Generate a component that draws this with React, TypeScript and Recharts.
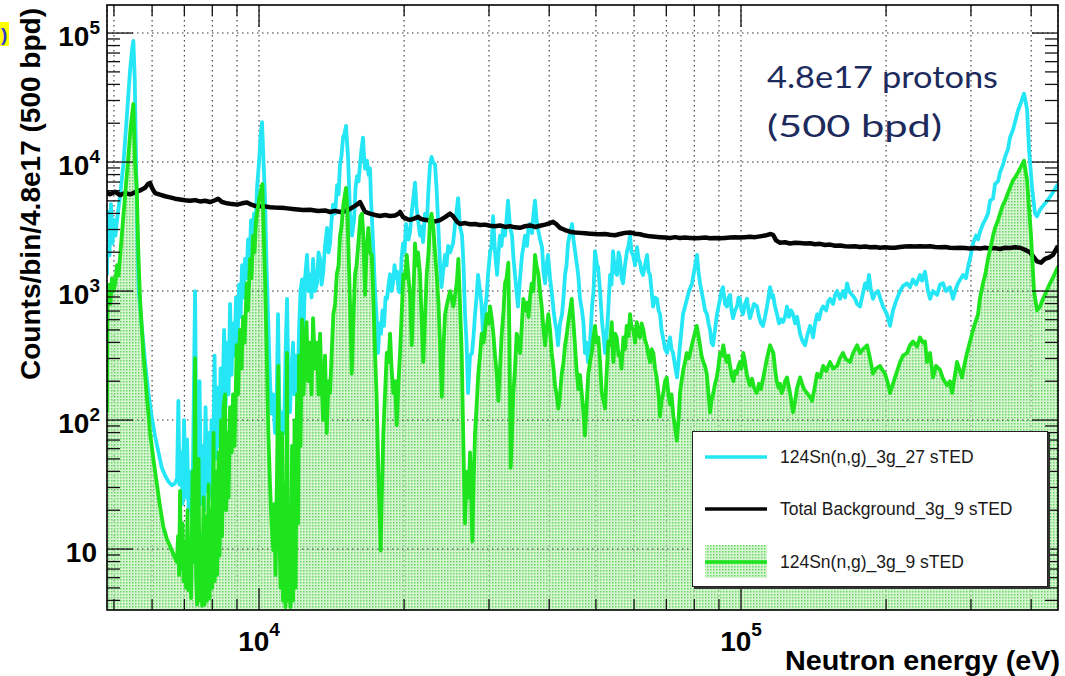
import React from 'react';
import { ComposedChart, Line, Area, XAxis, YAxis, CartesianGrid, ReferenceLine, Legend } from 'recharts';

// ---------------- layout constants ----------------
const CHART_W = 1065;
const CHART_H = 676;
const PLOT_LEFT = 107;
const PLOT_RIGHT = 1058;
const PLOT_TOP = 5;
const PLOT_BOTTOM = 610;
const FONT = "'Liberation Sans', Arial, Helvetica, sans-serif";

// ---------------- axes ----------------
const X_DOMAIN: [number, number] = [4837, 454700];
const Y_DOMAIN: [number, number] = [3.37, 165000];
const xTicks = [5000, 6000, 7000, 8000, 9000, 10000, 20000, 30000, 40000, 50000, 60000, 70000, 80000, 90000, 100000, 200000, 300000, 400000];
const xMajorTicks = [10000, 100000];
const xMajorExponents = ['4', '5'];
const yTicks = [4, 5, 6, 7, 8, 9, 10, 20, 30, 40, 50, 60, 70, 80, 90, 100, 200, 300, 400, 500, 600, 700, 800, 900, 1000, 2000, 3000, 4000, 5000, 6000, 7000, 8000, 9000, 10000, 20000, 30000, 40000, 50000, 60000, 70000, 80000, 90000, 100000];
const yMajorTicks = [10, 100, 1000, 10000, 100000];
const yMajorExponents = ['', '2', '3', '4', '5'];

// ---------------- texts ----------------
const seriesNames = ['124Sn(n,g)_3g_27 sTED', 'Total Background_3g_9 sTED', '124Sn(n,g)_3g_9 sTED'];
const xTitle = 'Neutron energy (eV)';
const yTitle = 'Counts/bin/4.8e17 (500 bpd)';
const noteLines = ['4.8e17 protons', '(500 bpd)'];

// ---------------- data: [neutron energy (eV), counts] ----------------
const cyanSeries: [number, number][] = [
[4837,1330],[4860,4100],[4895,1890],[4930,4720],[4966,2340],[5001,3560],[5037,2690],[5074,3560],[5148,5430],[5230,9530],
[5316,22130],[5400,51290],[5460,78160],[5486,86900],[5522,44570],[5556,10960],[5591,2690],[5628,1007],[5709,536],[5801,284],
[5894,162],[5991,106],[6085,75],[6183,56.6],[6283,42.8],[6383,37.2],[6486,33.4],[6594,31.2],[6695,32.3],[6760,35.5],
[6802,141],[6841,31.6],[6891,56.2],[6941,22.4],[6990,100],[7040,25.1],[7091,70.8],[7142,20],[7193,39.8],[7245,17.8],
[7297,50.1],[7367,1000],[7420,39.8],[7474,20],[7527,200],[7581,22.4],[7636,63.1],[7690,20],[7745,126],[7801,28.2],
[7857,79.4],[7914,25.1],[7971,100],[8028,35.5],[8086,316],[8144,50.1],[8203,178],[8262,63.1],[8321,251],[8381,89.1],
[8462,501],[8522,126],[8584,398],[8646,158],[8707,794],[8770,224],[8833,562],[8896,316],[8960,891],[9025,398],
[9090,1122],[9155,631],[9221,1585],[9287,891],[9354,1778],[9421,1259],[9489,2512],[9556,1585],[9625,3548],[9695,2239],
[9765,3981],[9834,3162],[9905,6310],[10000,10000],[10072,15850],[10145,20420],[10218,10000],[10290,5370],[10364,1585],[10439,661],
[10539,200],[10615,112],[10692,158],[10794,79.4],[10872,126],[10950,661],[11029,100],[11108,63.1],[11188,115],[11269,79.4],
[11350,316],[11432,871],[11514,158],[11596,115],[11680,251],[11764,398],[11849,158],[11934,316],[12020,162],[12106,501],
[12193,1000],[12281,1230],[12370,501],[12458,1259],[12578,1905],[12669,1000],[12760,1349],[12852,891],[12945,1778],[13068,1000],
[13194,1148],[13289,1995],[13385,1778],[13482,1122],[13579,1349],[13708,2239],[13840,3090],[13939,1995],[14040,2344],[14141,3548],
[14243,4677],[14380,3981],[14518,6607],[14623,5623],[14725,9550],[14831,11220],[14938,15490],[15046,16600],[15154,19050],[15227,14130],
[15300,10960],[15447,3981],[15595,2692],[15745,3548],[15858,6310],[15972,7762],[16087,7079],[16200,9550],[16317,12590],[16434,15490],
[16513,11220],[16595,8913],[16674,10000],[16754,10230],[16875,7943],[16996,8913],[17077,5012],[17159,3548],[17241,2344],[17407,1000],
[17532,631],[17658,331],[17785,562],[17910,468],[18040,708],[18170,537],[18300,891],[18430,871],[18570,1122],[18700,1349],
[18835,1000],[18970,1148],[19105,1585],[19240,1259],[19335,1413],[19475,1000],[19613,977],[19755,1778],[19900,2344],[20040,1995],
[20185,3311],[20280,2818],[20430,2512],[20576,2884],[20725,3981],[20875,5012],[21070,6918],[21220,4467],[21375,3548],[21580,2692],
[21735,3162],[21890,2399],[22100,3981],[22310,3548],[22475,6310],[22638,9550],[22800,10960],[22965,10000],[23185,9550],[23350,6310],
[23520,3548],[23745,1585],[23915,1072],[24090,1413],[24320,1905],[24495,1585],[24675,2239],[24911,1995],[25270,2344],[25570,3548],
[25880,5248],[26122,3162],[26375,2692],[26565,1585],[26755,661],[26950,398],[27145,162],[27404,316],[27668,331],[27866,447],
[28065,661],[28267,891],[28470,1334],[28740,1000],[28947,794],[29155,468],[29440,708],[29650,891],[29865,1334],[30150,1995],
[30370,2239],[30590,3802],[30880,1995],[31180,1334],[31400,1995],[31623,2692],[31850,2239],[32080,3162],[32390,2692],[32620,3548],
[32855,5012],[33170,3162],[33490,2692],[33730,1778],[33970,1334],[34215,1000],[34460,759],[34800,1259],[35135,1905],[35390,2239],
[35640,2692],[35980,2239],[36240,3162],[36500,3311],[36850,2818],[37115,3981],[37380,5012],[37650,3548],[37920,3020],[38280,2512],
[38650,2188],[38930,1413],[39210,1148],[39495,1585],[39780,1905],[40160,1259],[40545,933],[40840,708],[41130,575],[41425,501],
[41725,380],[42120,562],[42525,661],[42830,891],[43140,1334],[43450,1585],[43760,2344],[44180,2818],[44605,3311],[44925,2512],
[45250,2042],[45685,1585],[46015,1259],[46340,871],[46785,708],[47120,562],[47460,331],[47800,398],[48145,282],[48620,398],
[49085,759],[49440,1000],[49790,2042],[50270,1585],[50510,1549],[51000,1000],[51490,575],[51860,447],[52230,331],[52610,447],
[52985,661],[53490,1334],[53875,1122],[54260,2042],[54780,1413],[55310,1334],[55710,1995],[56110,1778],[56515,1259],[56920,1148],
[57460,1585],[58010,2042],[58430,2239],[58860,2692],[59285,1995],[59710,1905],[60280,1585],[60860,2188],[61300,1778],[61740,1660],
[62185,1413],[62630,1334],[63230,1585],[63840,1905],[64300,1413],[64760,1334],[65225,1000],[65700,759],[66320,891],[66960,871],
[67440,708],[67920,661],[68410,501],[68900,437],[69570,355],[70240,331],[70750,398],[71250,437],[71765,355],[72280,331],
[72970,263],[73670,214],[74190,282],[74720,380],[75260,501],[75800,661],[76540,759],[77275,871],[78020,1000],[79150,1148],
[79910,1413],[81060,1905],[81640,1413],[82220,1148],[82810,1000],[83410,871],[84210,708],[85020,661],[85630,562],[86250,501],
[86870,398],[87490,380],[88330,501],[89180,661],[89820,759],[90460,871],[91110,1000],[91760,1072],[92650,794],[93540,759],
[94210,891],[94900,933],[95580,708],[96270,617],[97190,708],[98120,759],[98820,891],[99520,871],[100240,708],[100960,661],
[101930,794],[102910,871],[103650,708],[104400,617],[105400,708],[106420,794],[107960,759],[108990,631],[110025,562],[111080,537],
[112170,631],[113240,759],[114900,1072],[116010,891],[116560,933],[117650,759],[118780,661],[119920,562],[121080,603],[122240,575],
[123400,631],[124580,759],[125780,631],[127010,708],[128230,661],[129500,562],[130740,631],[132600,468],[133870,417],[135800,380],
[137110,447],[139100,537],[140430,479],[141100,437],[142500,562],[143870,661],[145250,603],[146600,708],[148080,759],[150220,708],
[151640,832],[153000,871],[155250,794],[156800,933],[158300,1000],[160500,871],[162800,1000],[164400,891],[165980,1148],[167590,1000],
[170020,933],[172500,871],[174150,794],[176600,759],[178300,891],[180900,1148],[182630,1047],[184320,1334],[186090,1000],[187870,871],
[189700,955],[192470,1000],[194300,891],[197100,759],[199000,708],[200900,661],[203800,537],[206730,708],[209700,832],[213800,1000],
[216900,1096],[221080,1148],[224200,1072],[227420,1230],[230800,1122],[235200,1334],[237440,1202],[240900,1413],[244350,1000],[246700,871],
[250300,1000],[255200,933],[258800,1122],[262530,1148],[266300,1000],[271400,1072],[275330,871],[279300,1047],[282000,1148],[286100,1259],
[288860,1334],[293000,1259],[295900,1549],[298700,1778],[303000,2344],[307400,2692],[310300,2512],[313300,2884],[317800,3311],[320900,3548],
[325500,3981],[328600,5012],[333400,5248],[336600,6761],[341500,7079],[344700,8318],[349700,9550],[353100,10960],[358100,12590],[361500,15490],
[366800,17780],[370300,20420],[375600,25120],[379200,27540],[386500,33880],[392200,25700],[395900,12590],[401700,6310],[407400,3981],[411300,3802],
[417300,4266],[423300,4571],[429400,4898],[437700,5370],[446100,6026],[454700,6761]
];

const blackSeries: [number, number][] = [
[4837,5820],[4906,5623],[5025,5888],[5148,5546],[5272,5754],[5400,5623],[5530,5821],[5664,6026],[5801,6310],[5883,6761],
[5941,6887],[5998,6310],[6085,5754],[6232,5585],[6383,5433],[6538,5321],[6695,5200],[6858,5129],[7023,5058],[7193,5012],
[7367,5070],[7545,4955],[7727,5012],[7914,4898],[8105,5058],[8222,5200],[8381,4898],[8584,4786],[8791,4721],[9004,4677],
[9221,4786],[9443,4853],[9579,4721],[9811,4571],[10048,4550],[10290,4529],[10539,4467],[10794,4436],[11323,4395],[11877,4305],
[12340,4246],[12760,4266],[13257,4169],[13708,4217],[14040,4102],[14380,4188],[14725,4102],[15082,4169],[15447,4335],[15820,4571],
[16087,4786],[16200,4898],[16356,4571],[16595,4102],[16996,3981],[17407,3890],[17824,3819],[18256,3890],[18700,3819],[19150,3846],
[19475,3981],[19613,4102],[19900,3741],[20280,3614],[20576,3565],[21070,3664],[21375,3767],[21690,3614],[22100,3565],[22638,3516],
[23185,3467],[23745,3548],[24320,3741],[24911,3981],[25270,3802],[25760,3443],[26122,3311],[26755,3365],[27404,3296],[28065,3311],
[28740,3251],[29440,3273],[30150,3206],[30880,3184],[31623,3228],[32390,3141],[33170,3184],[33970,3119],[34800,3090],[35640,3184],
[36500,3228],[37380,3141],[38280,3206],[39210,3273],[40160,3365],[40740,3443],[41330,3311],[42120,3090],[43140,2972],[44180,2884],
[45250,2844],[46340,2825],[47460,2805],[48620,2786],[49790,2767],[51000,2754],[52230,2767],[53490,2729],[54780,2710],[56110,2767],
[57460,2825],[58860,2844],[60280,2786],[61740,2754],[63230,2692],[64760,2655],[66320,2636],[67920,2618],[69570,2600],[71250,2582],
[72970,2618],[74720,2582],[76540,2600],[78400,2582],[80280,2564],[82220,2582],[84210,2600],[86250,2564],[88330,2582],[90460,2564],
[92650,2582],[94900,2600],[97190,2618],[99520,2600],[101930,2618],[104400,2636],[106930,2618],[109500,2655],[112170,2692],[114900,2767],
[116560,2729],[118220,2472],[120500,2371],[123400,2388],[126400,2339],[129500,2371],[132600,2355],[135800,2339],[139100,2350],[142500,2307],
[145900,2323],[149500,2275],[153000,2291],[156800,2244],[160500,2259],[164400,2228],[168400,2213],[172500,2228],[176600,2198],[180900,2213],
[185200,2183],[189700,2198],[194300,2168],[199000,2183],[203800,2163],[208700,2168],[213800,2198],[219000,2213],[224200,2228],[229700,2213],
[235200,2228],[240900,2213],[246700,2228],[252700,2198],[258800,2183],[265000,2198],[271400,2168],[278000,2153],[284700,2168],[291600,2153],
[298700,2138],[305900,2153],[313300,2138],[320900,2168],[328600,2138],[336600,2153],[344700,2118],[353100,2168],[361500,2153],[370300,2183],
[379200,2168],[388400,2089],[397800,1995],[403700,1862],[411300,1698],[419300,1660],[427300,1778],[435600,1820],[443900,1905],[454700,2239]
];

const greenSeries: [number, number][] = [
[4837,115],[4849,1000],[4883,1122],[4918,794],[4954,1259],[4989,1000],[5025,1122],[5074,1585],[5111,1318],[5190,2692],
[5272,5433],[5356,10960],[5418,19050],[5486,28180],[5530,10000],[5575,6310],[5618,1995],[5664,871],[5754,327],[5847,158],
[5941,80.4],[6036,50.1],[6135,32.4],[6232,21.4],[6333,14.8],[6437,12.0],[6538,10.5],[6643,9.12],[6752,7.94],[6793,12.6],
[6826,6.31],[6858,28.2],[6891,7.08],[6941,15.8],[6974,5.62],[7023,11.2],[7057,5.01],[7108,20.0],[7142,4.79],[7193,10.0],
[7227,4.17],[7280,39.8],[7332,7.94],[7367,302],[7402,6.31],[7438,3.72],[7492,50.1],[7527,3.98],[7581,12.6],[7618,3.63],
[7672,25.1],[7709,3.72],[7764,17.8],[7801,3.98],[7857,31.6],[7895,4.17],[7952,20.0],[7990,5.01],[8048,79.4],[8086,5.62],
[8144,39.8],[8183,6.31],[8242,56.2],[8282,8.91],[8341,100],[8381,12.6],[8441,126],[8502,158],[8543,20.0],[8604,79.4],
[8646,25.1],[8707,126],[8778,56.2],[8833,158],[8896,63.1],[8990,380],[9046,158],[9133,501],[9199,251],[9265,631],
[9331,398],[9431,1148],[9489,708],[9579,1778],[9648,1259],[9718,2692],[9788,1995],[9858,3548],[9968,4677],[10048,5623],
[10160,6761],[10218,3162],[10290,1259],[10364,398],[10455,79.4],[10539,31.6],[10615,15.8],[10707,9.77],[10769,22.4],[10820,6.31],
[10898,39.8],[10966,263],[11029,12.6],[11082,5.01],[11162,79.4],[11215,3.98],[11296,31.6],[11350,3.55],[11432,331],[11487,3.98],
[11569,20.0],[11624,3.55],[11708,63.1],[11764,3.98],[11849,100],[11906,5.01],[11991,158],[12049,15.8],[12106,316],[12193,63.1],
[12281,603],[12370,158],[12458,316],[12548,575],[12639,200],[12760,398],[12852,158],[12945,617],[13068,251],[13194,398],
[13289,158],[13385,468],[13482,200],[13579,100],[13708,316],[13820,79.4],[13939,200],[14040,162],[14141,316],[14263,661],
[14380,794],[14497,1349],[14623,1585],[14725,2692],[14831,3162],[14960,4677],[15154,6310],[15263,3981],[15322,2344],[15447,794],
[15573,229],[15670,501],[15820,1349],[15934,1585],[16072,2344],[16239,3802],[16356,3981],[16458,2692],[16595,933],[16714,1995],
[16860,3090],[16996,1995],[17135,1905],[17241,1000],[17407,331],[17532,158],[17683,39.8],[17885,9.77],[17953,20.0],[18109,79.4],
[18256,158],[18406,331],[18565,282],[18700,468],[18835,251],[18997,162],[19150,200],[19307,91.2],[19475,200],[19613,331],
[19755,631],[19928,1349],[20090,1259],[20255,1905],[20430,1259],[20576,933],[20745,380],[20875,794],[21070,2344],[21220,1585],
[21375,1995],[21580,1349],[21735,631],[21920,282],[22100,631],[22280,1349],[22475,1995],[22638,3548],[22800,3981],[22998,3090],
[23185,1995],[23372,1349],[23575,794],[23745,380],[23950,151],[24090,316],[24320,661],[24555,794],[24911,1000],[25310,759],
[25720,1148],[25915,1778],[26122,794],[26335,331],[26545,64.6],[26755,15.8],[26975,39.8],[27210,25.1],[27404,56.2],[27710,11.5],
[27865,31.6],[28065,79.4],[28267,126],[28510,229],[28740,316],[28975,468],[29225,398],[29440,501],[29680,661],[29935,562],
[30150,759],[30370,631],[30630,468],[30880,316],[31130,229],[31375,141],[31623,251],[31885,468],[32160,708],[32390,1148],
[32620,1259],[32905,1660],[33090,398],[33280,42.7],[33490,79.4],[33700,162],[33970,251],[34250,468],[34540,398],[34800,331],
[35050,501],[35350,871],[35640,708],[35930,813],[36240,631],[36500,891],[36800,1148],[37080,1000],[37380,1905],[37650,1585],
[37975,1349],[38280,1000],[38590,759],[38930,501],[39210,380],[39495,501],[39835,661],[40160,501],[40490,331],[40840,251],
[41130,186],[41425,158],[41790,123],[42120,158],[42470,229],[42830,282],[43140,380],[43450,447],[43825,575],[44180,708],
[44545,871],[44925,562],[45250,380],[45575,251],[45970,174],[46340,224],[46720,162],[47120,112],[47460,75.9],[47800,126],
[48215,229],[48620,282],[49010,331],[49440,447],[49790,537],[50150,398],[50580,437],[51000,282],[51415,162],[51860,141],
[52230,123],[52610,224],[53060,407],[53490,380],[53925,575],[54340,282],[54780,468],[55230,437],[55710,316],[56110,331],
[56515,251],[57000,437],[57460,355],[57920,537],[58430,447],[58860,661],[59285,525],[59800,501],[60280,398],[60780,575],
[61300,457],[61740,437],[62185,562],[62720,501],[63230,417],[63750,380],[64300,316],[64760,282],[65225,355],[65790,331],
[66320,251],[66860,214],[67440,158],[67920,107],[68410,141],[69000,162],[69570,200],[70130,214],[70740,158],[71250,132],
[71765,158],[72380,107],[72970,89.1],[73570,69.2],[74210,100],[74720,162],[75260,200],[75910,245],[76540,282],[77160,331],
[78020,302],[79040,380],[79910,447],[80940,537],[81640,447],[82220,380],[82810,316],[83530,282],[84210,263],[84900,229],
[85630,158],[86250,115],[86870,141],[87620,162],[88330,191],[89050,214],[89820,263],[90460,331],[91110,316],[91890,380],
[92650,316],[93400,282],[94210,316],[94900,263],[95580,224],[96420,200],[97190,240],[97990,229],[98820,263],[99520,282],
[100240,251],[101100,331],[101930,282],[102780,229],[103650,200],[104400,186],[105400,209],[106420,178],[107800,162],[108990,191],
[110025,174],[111240,214],[112170,251],[113240,302],[114900,380],[115730,355],[116740,331],[117650,251],[118610,200],[119640,178],
[120500,191],[121370,162],[122430,174],[123400,200],[124580,214],[126400,162],[128230,115],[129500,141],[130740,178],[132600,214],
[133870,191],[135150,174],[137110,162],[139100,151],[140430,141],[142160,178],[143870,229],[145900,214],[148080,263],[150220,240],
[153000,282],[155250,251],[158300,263],[160500,302],[162800,331],[165200,295],[168400,282],[170860,331],[174150,380],[176600,331],
[179170,355],[182630,380],[185200,302],[187870,229],[190600,251],[194300,263],[197100,240],[199000,229],[201900,191],[203800,162],
[206730,191],[208700,214],[211700,251],[213800,282],[216900,316],[221080,331],[224200,380],[227420,407],[231890,372],[235200,437],
[238610,398],[240900,407],[243200,282],[246700,331],[250300,214],[253900,263],[258800,245],[262530,209],[267570,186],[271400,200],
[274100,162],[278000,224],[280660,282],[284700,240],[287450,214],[291600,282],[294400,331],[298700,407],[303000,501],[305900,562],
[310300,661],[313300,891],[317800,1148],[320900,1318],[325500,1778],[328600,2089],[333400,2692],[336600,3090],[341500,3548],[344700,3981],
[349700,4677],[353100,5012],[358100,5754],[361500,6310],[366800,7244],[370300,7586],[375600,8318],[379200,8913],[386500,10230],[392200,7244],
[395900,4467],[399700,2692],[405500,1000],[411300,708],[417300,759],[423300,871],[429400,977],[437700,1148],[446100,1318],[454700,1549]
];

const toRows = (s: [number, number][]) => s.map(([e, v]) => ({ e, v }));
const cyanData = toRows(cyanSeries);
const blackData = toRows(blackSeries);
const greenData = toRows(greenSeries);

// ---------------- colours ----------------
const CYAN = '#25e6f5';
const GREEN = '#1de41d';
const BLACK = '#050505';

// ---------------- tick renderers ----------------
const XTick = (props: any) => {
  const { x, payload } = props;
  const v = payload.value;
  const mi = xMajorTicks.indexOf(v);
  const major = mi >= 0;
  const len = major ? 22 : 11;
  return (
    <g>
      <line x1={x} x2={x} y1={PLOT_BOTTOM} y2={PLOT_BOTTOM - len} stroke="#111" strokeWidth={1.3} />
      <line x1={x} x2={x} y1={PLOT_TOP} y2={PLOT_TOP + len} stroke="#111" strokeWidth={1.3} />
      {major && (
        <text x={x} y={651} textAnchor="middle" fontFamily={FONT} fontWeight={700} fontSize={28} fill="#000">
          10<tspan dy={-15} fontSize={19}>{xMajorExponents[mi]}</tspan>
        </text>
      )}
    </g>
  );
};

const YTick = (props: any) => {
  const { y, payload } = props;
  const v = payload.value;
  const mi = yMajorTicks.indexOf(v);
  const major = mi >= 0;
  const len = major ? 26 : 13;
  const exp = major ? yMajorExponents[mi] : '';
  return (
    <g>
      <line x1={PLOT_LEFT} x2={PLOT_LEFT + len} y1={y} y2={y} stroke="#111" strokeWidth={1.3} />
      <line x1={PLOT_RIGHT} x2={PLOT_RIGHT - len} y1={y} y2={y} stroke="#111" strokeWidth={1.3} />
      {major && (
        <text x={exp ? 100 : 97} y={y + 13} textAnchor="end" fontFamily={FONT} fontWeight={700} fontSize={28} fill="#000">
          10{exp && <tspan dy={-12} fontSize={19}>{exp}</tspan>}
        </text>
      )}
    </g>
  );
};

// ---------------- legend ----------------
const LegendBox = () => {
  const rowY = [26, 78, 131];
  const colours = [CYAN, BLACK, GREEN];
  return (
    <div
      style={{
        position: 'relative', width: 356, height: 156, boxSizing: 'border-box',
        border: '1.5px solid #222', background: '#fff', boxShadow: '2px 2px 0 #333',
        fontFamily: FONT, fontSize: 17.5, color: '#1a1a1a',
      }}
    >
      <svg width={356} height={156} style={{ position: 'absolute', left: -1.5, top: -1.5 }}>
        <rect x={13} y={114} width={62} height={33} fill="url(#greenDots)" />
        {seriesNames.map((n, i) => (
          <g key={n}>
            <line x1={13} x2={75} y1={rowY[i]} y2={rowY[i]} stroke={colours[i]} strokeWidth={3.4} />
            <text x={88} y={rowY[i] + 6} fontFamily={FONT} fontSize={17.5} fill="#1a1a1a">{n}</text>
          </g>
        ))}
      </svg>
    </div>
  );
};

export default function App() {
  return (
    <div style={{ position: 'absolute', left: 0, top: 0, width: CHART_W, height: CHART_H, background: '#fff' }}>
      <ComposedChart
        width={CHART_W}
        height={CHART_H}
        margin={{ top: PLOT_TOP, right: CHART_W - PLOT_RIGHT, bottom: 0, left: 0 }}
      >
        <defs>
          <pattern id="greenDots" width="3" height="3" patternUnits="userSpaceOnUse">
            <rect width="3" height="3" fill="#bdeeb3" fillOpacity={0.62} />
            <rect width="1.5" height="1.5" fill="#55d355" fillOpacity={0.85} />
          </pattern>
        </defs>
        <CartesianGrid horizontal={false} stroke="#333" strokeDasharray="1.5 3.5" strokeWidth={1.1} />
        {yMajorTicks.map((v) => (
          <ReferenceLine key={v} y={v} stroke="#333" strokeDasharray="1.5 3.5" strokeWidth={1.1} />
        ))}
        <Area
          data={greenData}
          dataKey="v"
          type="linear"
          stroke="none"
          fill="url(#greenDots)"
          fillOpacity={1}
          baseValue="dataMin"
          isAnimationActive={false}
          name={seriesNames[2]}
          legendType="none"
        />
        <Line data={cyanData} dataKey="v" type="linear" stroke={CYAN} strokeWidth={3.8} strokeLinejoin="round" dot={false} isAnimationActive={false} name={seriesNames[0]} />
        <Line data={blackData} dataKey="v" type="linear" stroke={BLACK} strokeWidth={4.5} strokeLinejoin="round" dot={false} isAnimationActive={false} name={seriesNames[1]} />
        <Line data={greenData} dataKey="v" type="linear" stroke={GREEN} strokeWidth={3.8} strokeLinejoin="round" dot={false} isAnimationActive={false} name={seriesNames[2]} />
        <XAxis
          dataKey="e"
          type="number"
          scale="log"
          domain={X_DOMAIN}
          allowDataOverflow
          ticks={xTicks}
          interval={0}
          tick={(p: any) => <XTick {...p} />}
          tickLine={false}
          axisLine={false}
          tickSize={0}
          tickMargin={0}
          height={CHART_H - PLOT_BOTTOM}
        />
        <YAxis
          type="number"
          scale="log"
          domain={Y_DOMAIN}
          allowDataOverflow
          ticks={yTicks}
          interval={0}
          tick={(p: any) => <YTick {...p} />}
          tickLine={false}
          axisLine={false}
          tickSize={0}
          tickMargin={0}
          width={PLOT_LEFT}
        />
        <Legend
          content={() => <LegendBox />}
          layout="horizontal"
          verticalAlign="middle"
          align="center"
          wrapperStyle={{ position: 'absolute', left: 692, top: 431, width: 356, height: 156 }}
        />
      </ComposedChart>
      <svg
        width={CHART_W}
        height={CHART_H}
        style={{ position: 'absolute', left: 0, top: 0, pointerEvents: 'none' }}
      >
        <rect x={PLOT_LEFT} y={PLOT_TOP} width={PLOT_RIGHT - PLOT_LEFT} height={PLOT_BOTTOM - PLOT_TOP} fill="none" stroke="#000" strokeWidth={1.6} />
        <text transform="rotate(-90)" x={-8} y={40} textAnchor="end" fontFamily={FONT} fontWeight={700} fontSize={27} fill="#000" textLength={372} lengthAdjust="spacingAndGlyphs">
          {yTitle}
        </text>
        <text x={1060} y={670} textAnchor="end" fontFamily={FONT} fontWeight={700} fontSize={28} fill="#000" textLength={275} lengthAdjust="spacingAndGlyphs">
          {xTitle}
        </text>
        <text x={767} y={88} fontFamily="Lato, 'Open Sans', sans-serif" fontSize={30} fill="#1c2a5c" textLength={231} lengthAdjust="spacingAndGlyphs">
          {noteLines[0]}
        </text>
        <text x={767} y={137} fontFamily="Lato, 'Open Sans', sans-serif" fontSize={30} fill="#1c2a5c" textLength={175} lengthAdjust="spacingAndGlyphs">
          {noteLines[1]}
        </text>
        <rect x={0} y={22} width={9} height={24} fill="#ffff00" />
        <text x={1} y={41} fontFamily={FONT} fontWeight={700} fontSize={19} fill="#2a39d0">)</text>
      </svg>
    </div>
  );
}
